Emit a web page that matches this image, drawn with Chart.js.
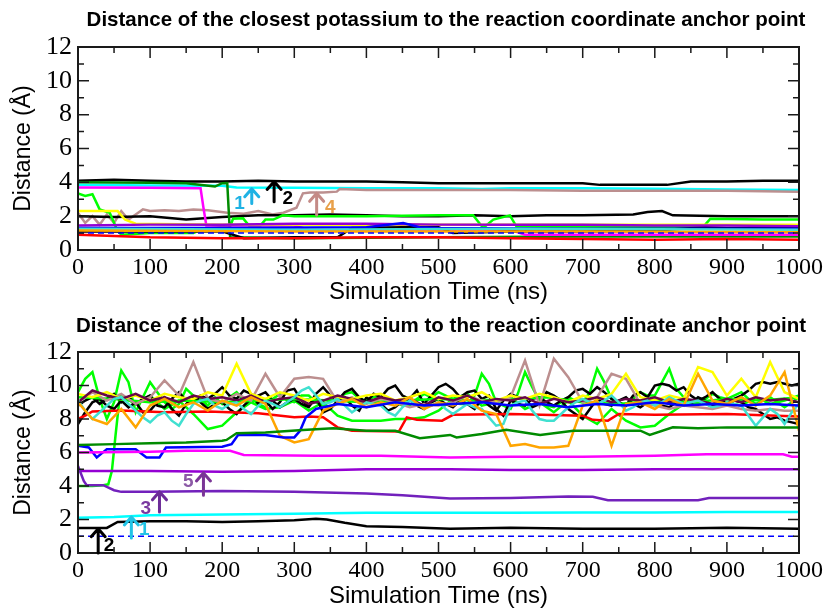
<!DOCTYPE html>
<html>
<head>
<meta charset="utf-8">
<script src="https://cdn.jsdelivr.net/npm/chart.js@4.4.1/dist/chart.umd.min.js"></script>
<style>
  body { margin: 0; background: #fff; }
  .panel { position: absolute; left: 0; width: 828px; }
  #topPanel { top: 0; height: 306px; }
  #bottomPanel { top: 306px; height: 302px; }
</style>
</head>
<body>
<div class="panel" id="topPanel"><canvas id="kChart" width="828" height="306"></canvas></div>
<div class="panel" id="bottomPanel"><canvas id="mgChart" width="828" height="302"></canvas></div>
<script>
// ---- time axes used by the noisy magnesium traces (ns) ----
const T20 = [0,20,40,60,80,100,120,140,160,180,200,220,240,260,280,300,320,340,360,380,
  400,420,440,460,480,500,520,540,560,580,600,620,640,660,680,700,720,740,760,780,
  800,820,840,860,880,900,920,940,960,980,1000];
const T10 = [0,10,20,30,40,50,60,70,80,90,100,110,120,130,140,150,160,170,180,190,
  200,210,220,230,240,250,260,270,280,290,300,310,320,330,340,350,360,370,380,390,
  400,410,420,430,440,450,460,470,480,490,500,510,520,530,540,550,560,570,580,590,
  600,610,620,630,640,650,660,670,680,690,700,710,720,730,740,750,760,770,780,790,
  800,810,820,830,840,850,860,870,880,890,900,910,920,930,940,950,960,970,980,990,1000];

const xTicks = [0,100,200,300,400,500,600,700,800,900,1000];
const yTicks = [0,2,4,6,8,10,12];

// ---- potassium traces (distance in Å) ----
const kBlackTopT = [0,50,100,150,200,250,300,350,400,450,500,550,600,650,700,724,760,817,850,900,950,1000];
const kBlackTopV = [4.1,4.15,4.1,4.05,4.05,4.1,4.05,4.05,4.05,4.0,3.95,3.95,3.95,3.95,3.95,3.85,3.85,3.85,4.05,4.05,4.1,4.1];
const kCyanT = [0,100,200,220,300,400,500,560,600,700,800,900,1000];
const kCyanV = [3.85,3.82,3.8,3.7,3.68,3.65,3.65,3.6,3.65,3.65,3.62,3.58,3.55];
const kBrownT = [0,10,20,30,40,50,60,70,80,90,100,120,140,160,180,207,230,250,270,285,303,312,322,340,359,363,400,500,600,700,800,900,1000];
const kBrownV = [2.2,1.6,2.0,1.5,2.1,1.6,2.3,1.8,2.1,2.4,2.3,2.35,2.3,2.4,2.35,2.2,2.15,2.3,2.1,2.2,2.5,3.35,3.4,3.4,3.45,3.6,3.55,3.55,3.55,3.5,3.5,3.5,3.45];
const kMagentaT = [0,100,170,174,178,300,320,600,620,1000];
const kMagentaV = [3.7,3.68,3.65,2.5,1.45,1.45,1.2,1.2,0.9,0.9];
const kDkGreenT = [0,100,150,190,200,207,211,300,500,700,1000];
const kDkGreenV = [4.0,3.98,3.95,3.75,3.95,3.96,0.75,0.7,0.75,0.8,0.8];
const kLimeT = [0,10,20,30,44,54,60,100,160,173,197,211,215,229,238,252,260,271,284,300,400,500,548,562,576,599,608,700,800,867,877,950,1000];
const kLimeV = [3.35,3.2,3.3,2.4,2.2,1.2,0.9,1.0,1.0,1.25,1.35,1.38,1.85,1.87,1.4,1.38,1.8,1.8,2.05,2.0,2.0,2.05,2.05,1.3,1.8,2.05,1.4,1.35,1.35,1.35,1.85,1.8,1.8];
const kBlackMidT = [0,50,100,150,200,250,300,350,400,450,500,550,600,650,700,770,790,810,825,900,950,1000];
const kBlackMidV = [2.0,1.95,2.0,1.8,1.95,2.05,2.05,2.1,2.05,2.0,2.0,2.05,2.0,2.05,2.05,2.1,2.25,2.3,2.05,2.0,2.0,2.0];
const kYellowT = [0,55,65,80,200,400,600,800,1000];
const kYellowV = [2.3,2.3,1.8,1.55,1.5,1.5,1.5,1.5,1.5];
const kVioletT = [0,100,200,300,400,500,600,700,800,900,1000];
const kVioletV = [1.45,1.5,1.5,1.55,1.55,1.5,1.5,1.5,1.45,1.45,1.4];
const kBlueT = [0,200,400,451,474,500,700,1000];
const kBlueV = [1.3,1.3,1.35,1.6,1.35,1.3,1.25,1.25];
const kTurqT = [0,300,600,1000];
const kTurqV = [1.25,1.2,1.25,1.2];
const kBlackLowT = [0,200,230,300,360,380,450,500,520,600,700,800,870,900,1000];
const kBlackLowV = [1.1,1.1,0.7,0.75,0.75,1.3,1.35,1.35,1.0,1.1,1.1,1.15,1.35,1.3,1.3];
const kRedT = [0,100,200,300,400,500,600,700,800,900,1000];
const kRedV = [0.9,0.75,0.7,0.7,0.75,0.75,0.7,0.65,0.6,0.65,0.6];
const kOrangeT = [0,300,700,1000];
const kOrangeV = [1.15,1.1,1.1,1.05];
const refT = [0,1000];
const refV = [1.0,1.0];

// ---- magnesium traces (distance in Å) ----
const mgBlackAV = [8.8,9.1,9.3,8.9,9.2,9.5,9.0,9.3,8.9,9.2,
  9.4,8.8,8.7,9.2,9.6,9.1,9.0,9.4,9.2,9.5,
  9.9,9.4,9.2,9.7,9.5,8.9,9.1,8.6,9.0,9.7,
  9.8,9.1,8.8,9.5,9.9,9.4,9.1,9.6,9.8,9.3,
  9.0,9.5,9.3,9.8,10.0,9.4,9.2,9.7,8.9,9.4,
  9.9,10.1,9.8,9.3,9.6,9.7,9.2,8.8,8.5,9.1,
  9.5,9.3,9.2,8.7,8.9,9.6,9.4,9.1,9.3,9.7,
  9.8,9.5,9.9,9.6,9.2,9.0,8.8,9.4,9.6,9.3,
  10.0,10.1,10.0,9.7,9.9,9.4,9.1,9.3,9.6,9.2,
  8.9,9.2,9.4,9.7,10.1,10.2,10.1,10.2,10.1,10.0,
  10.1];
const mgBlackBV = [7.7,8.4,9.0,9.2,8.8,8.6,9.1,8.7,9.0,8.4,
  8.5,9.0,9.3,8.6,8.2,8.9,9.3,9.0,8.6,8.9,
  9.0,8.6,8.3,8.8,9.2,9.4,9.6,9.1,8.7,9.0,
  9.2,8.9,8.7,9.3,8.4,8.6,9.1,9.3,8.8,8.5,
  9.3,9.0,8.9,8.5,8.7,9.1,9.2,8.8,8.6,9.0,
  9.2,8.9,8.7,9.1,8.9,8.6,9.2,9.4,8.6,8.2,
  9.1,8.9,8.8,9.2,9.3,9.0,8.8,9.1,8.6,8.3,
  8.0,8.6,9.2,8.9,8.8,9.1,9.3,8.9,8.7,9.0,
  9.1,8.8,8.7,9.0,9.2,8.9,9.3,9.1,8.8,9.0,
  8.8,9.1,9.0,8.7,8.6,8.3,8.0,8.1,7.9,7.8,
  7.7];
const mgLimeAV = [9.6,10.4,10.8,9.2,8.0,9.0,10.9,10.2,8.4,9.3,
  10.2,9.6,9.0,8.6,8.9,9.8,9.4,9.2,8.8,9.3,
  8.9,9.3,9.6,9.1,9.3,8.9,8.7,9.2,9.5,9.1,
  9.0,9.4,9.4,9.0,8.8,9.1,9.2,9.5,9.6,9.2,
  9.1,9.3,9.3,9.0,9.0,8.8,8.8,9.2,9.5,9.3,
  9.6,9.4,9.2,8.9,8.9,9.4,10.7,10.1,9.0,8.8,
  8.6,9.5,10.8,9.9,9.1,8.8,8.7,9.0,9.3,9.1,
  9.0,9.6,11.0,10.2,9.2,8.9,8.8,9.2,9.6,9.4,
  9.4,10.2,11.0,9.8,9.3,8.9,8.9,9.2,9.5,9.3,
  9.2,9.4,9.6,9.2,8.9,9.1,9.3,9.0,8.7,9.0,
  9.3];
const mgTurqV = [9.1,8.5,8.0,8.4,8.8,9.2,9.3,8.9,8.5,8.1,
  7.8,8.2,8.4,7.9,7.6,8.3,8.9,9.1,9.2,8.8,
  8.6,8.9,9.0,8.6,8.3,8.8,9.1,8.9,8.7,9.0,
  9.3,9.7,9.9,9.4,8.9,9.0,9.2,8.8,8.4,8.7,
  9.0,8.9,8.8,8.4,8.2,8.7,9.1,8.9,8.7,8.8,
  9.0,8.6,8.3,8.6,8.9,8.7,8.6,8.1,7.6,7.7,
  8.8,9.0,9.1,8.5,8.0,7.9,7.9,8.3,8.7,9.0,
  9.2,9.0,8.9,9.1,9.4,9.0,8.5,8.7,9.0,9.1,
  8.8,9.0,9.3,9.1,8.9,9.0,9.1,8.9,8.7,8.8,
  9.0,8.9,8.8,8.2,7.6,8.1,8.6,8.3,7.7,8.4,
  8.9];
const mgLimeBT = [0,20,35,42,47,52,58,80,100,120,140,160,180,200,220,240,260,280,300,320,340,360,380,
  400,420,440,460,480,500,520,540,560,580,600,620,640,660,680,700,720,740,760,780,
  800,820,840,860,880,900,920,940,960,980,1000];
const mgLimeBV = [4.0,4.0,4.05,4.1,4.9,7.0,9.4,8.9,9.4,8.6,9.1,8.3,7.4,7.6,8.4,9.0,8.6,8.7,9.1,8.5,9.0,8.2,7.9,
  7.9,7.9,8.0,8.0,8.1,8.5,9.2,9.5,8.8,9.0,9.3,8.6,9.0,8.4,9.1,8.2,7.7,8.6,7.9,7.5,
  7.6,8.3,8.9,9.2,8.7,9.0,8.8,9.3,8.9,9.1,9.4];
const mgLimeCT = [0,50,100,150,200,250,300,350,400,450,500,550,600,650,700,750,800,850,900,950,1000];
const mgLimeCV = [9.3,9.2,9.0,9.1,9.0,9.1,9.2,9.1,9.0,9.1,9.2,9.1,9.2,9.3,9.0,8.9,9.1,9.0,9.2,9.1,9.3];
const mgYellowV = [9.5,9.3,9.6,9.2,9.4,9.1,9.5,9.3,9.2,9.6,9.4,11.3,9.5,9.2,9.6,9.4,9.1,9.5,9.3,9.2,
  9.4,9.5,9.1,9.3,9.6,9.2,9.4,9.3,9.6,9.1,9.4,9.2,9.5,9.3,9.0,9.4,9.2,9.5,10.7,9.3,
  9.1,9.4,9.2,11.1,10.8,9.4,10.4,9.3,11.4,9.6,9.2];
const mgOrangeV = [9.0,8.0,7.7,8.6,7.5,8.8,9.2,8.7,9.0,8.5,9.1,8.8,9.3,8.9,7.0,6.6,6.8,8.5,8.9,9.2,
  8.7,9.0,8.8,9.3,8.6,9.0,8.8,9.2,8.5,8.3,6.4,6.5,6.3,6.3,6.4,8.8,9.1,6.4,8.9,9.0,
  8.6,9.2,8.8,10.7,9.1,8.9,9.3,8.8,9.4,10.8,7.3];
const mgBrownV = [9.0,9.6,9.1,9.5,8.9,9.3,10.3,9.4,11.4,9.2,9.0,9.5,9.1,10.7,9.3,10.4,10.5,10.4,9.0,9.3,
  8.9,9.2,9.0,8.7,8.9,8.8,9.0,9.4,9.1,9.0,9.3,11.5,8.8,11.6,10.5,9.0,9.3,10.7,10.4,8.9,
  8.8,8.6,8.8,8.7,8.6,8.8,8.6,8.5,8.6,8.5,8.5];
const mgMaroonV = [9.0,9.7,9.4,9.2,9.5,9.1,9.3,9.0,9.4,9.2,9.3,9.1,9.4,9.0,9.2,9.3,8.9,9.1,9.4,9.2,
  9.0,9.3,9.1,9.2,8.8,9.3,9.1,9.4,9.0,9.2,9.1,9.3,8.9,9.2,9.0,9.1,9.3,9.0,9.2,9.1,
  9.3,9.0,9.2,9.1,8.9,9.2,9.0,9.3,9.1,9.2,9.0];
const mgBlueT = [0,15,26,40,80,95,113,122,200,213,222,260,285,300,308,316,330,360,400,440,480,520,560,600,640,680,720,760,800,840,880,920,960,1000];
const mgBlueV = [6.4,6.3,5.7,6.2,6.2,5.7,5.7,6.3,6.35,6.5,7.05,7.05,6.9,6.9,7.3,8.1,8.6,8.9,8.7,9.0,8.8,8.9,9.0,8.8,8.9,8.7,8.9,8.8,9.0,8.8,8.9,8.8,8.9,8.8];
const mgRedT = [0,10,20,60,120,180,250,300,320,340,360,380,445,456,470,505,520,600,700,714,735,750,800,900,1000];
const mgRedV = [8.0,8.2,8.45,8.5,8.4,8.45,8.35,8.1,8.15,8.1,7.5,7.3,7.25,8.1,7.95,7.9,8.25,8.3,8.2,7.95,7.9,8.3,8.25,8.3,8.15];
const mgDkGreenT = [0,50,100,150,200,206,220,260,312,354,400,440,474,516,525,560,594,641,687,740,780,793,825,860,900,950,1000];
const mgDkGreenV = [6.45,6.5,6.55,6.6,6.7,6.75,7.15,7.2,7.35,7.45,7.3,7.3,6.85,7.05,6.9,7.1,7.35,7.05,7.3,7.3,7.3,7.05,7.5,7.45,7.5,7.5,7.5];
const mgMagentaT = [0,100,150,211,230,330,420,516,600,700,800,872,978,990,1000];
const mgMagentaV = [6.0,6.05,6.1,6.1,5.85,5.8,5.8,5.7,5.75,5.75,5.8,5.9,5.9,5.75,5.75];
const mgVioletT = [0,100,200,300,400,516,600,700,800,900,1000];
const mgVioletV = [4.9,4.9,4.85,4.9,5.0,5.0,4.95,4.95,5.0,5.0,5.0];
const mgIndigoT = [0,8,12,35,50,60,100,200,300,400,450,516,600,680,714,735,860,875,1000];
const mgIndigoV = [5.2,4.3,4.05,4.05,3.75,3.65,3.65,3.7,3.65,3.55,3.45,3.25,3.28,3.38,3.36,3.15,3.15,3.28,3.28];
const mgCyanT = [0,50,100,200,300,400,500,600,700,800,900,1000];
const mgCyanV = [2.1,2.15,2.25,2.3,2.35,2.4,2.4,2.4,2.42,2.42,2.45,2.45];
const mgBlackLowT = [0,40,55,100,150,200,250,300,330,345,370,400,450,516,600,700,800,900,1000];
const mgBlackLowV = [1.5,1.5,1.85,1.9,1.9,1.85,1.9,1.95,2.05,2.0,1.8,1.6,1.55,1.45,1.5,1.45,1.45,1.5,1.45];

// numbered arrows: time, tail, tip, label position
const kArrows = [
  { n: '1', t: 241, from: 2.75, to: 3.62, color: '#1fb2e4', lt: 224, lv: 2.72, lc: '#1fb2e4' },
  { n: '2', t: 272, from: 2.85, to: 4.05, color: '#000000', lt: 291, lv: 3.0, lc: '#000000' },
  { n: '4', t: 331, from: 2.07, to: 3.35, color: '#c48a86', lt: 350, lv: 2.5, lc: '#e8a04a' }
];
const mgArrows = [
  { n: '5', t: 174, from: 3.45, to: 4.78, color: '#7a3596', lt: 153, lv: 4.26, lc: '#8c5aa6' },
  { n: '3', t: 113, from: 2.45, to: 3.65, color: '#6c2c98', lt: 94, lv: 2.63, lc: '#7a3aa0' },
  { n: '1', t: 74, from: 0.9, to: 2.15, color: '#22c4e6', lt: 92, lv: 1.37, lc: '#22c4e6' },
  { n: '2', t: 28, from: 0.0, to: 1.45, color: '#000000', lt: 43, lv: 0.45, lc: '#000000' }
];

// xmgrace palette
const C = {
  black: '#000000', red: '#ff0000', lime: '#00ff00', blue: '#0000ff', yellow: '#ffff00',
  brown: '#bc8f8f', violet: '#9400d3', cyan: '#00ffff', magenta: '#ff00ff', orange: '#ffa500',
  indigo: '#7221bc', maroon: '#670748', turq: '#40e0d0', green4: '#008b00'
};

function line(color, t, v, opts) {
  return Object.assign({
    borderColor: color,
    borderWidth: 2.5,
    pointRadius: 0,
    tension: 0,
    fill: false,
    data: t.map((x, i) => ({ x: x, y: v[i] }))
  }, opts || {});
}
const dashed = { borderWidth: 1.5, borderDash: [6, 4] };

const kSets = [
  line(C.red, kRedT, kRedV),
  line(C.blue, refT, refV, dashed),
  line(C.orange, kOrangeT, kOrangeV),
  line(C.turq, kTurqT, kTurqV),
  line(C.blue, kBlueT, kBlueV),
  line(C.violet, kVioletT, kVioletV),
  line(C.yellow, kYellowT, kYellowV),
  line(C.black, kBlackLowT, kBlackLowV),
  line(C.magenta, kMagentaT, kMagentaV),
  line(C.green4, kDkGreenT, kDkGreenV),
  line(C.lime, kLimeT, kLimeV),
  line(C.black, kBlackMidT, kBlackMidV),
  line(C.brown, kBrownT, kBrownV),
  line(C.cyan, kCyanT, kCyanV),
  line(C.black, kBlackTopT, kBlackTopV)
];

const mgSets = [
  line(C.blue, refT, refV, dashed),
  line(C.black, mgBlackLowT, mgBlackLowV),
  line(C.cyan, mgCyanT, mgCyanV),
  line(C.indigo, mgIndigoT, mgIndigoV),
  line(C.violet, mgVioletT, mgVioletV),
  line(C.magenta, mgMagentaT, mgMagentaV),
  line(C.green4, mgDkGreenT, mgDkGreenV),
  line(C.blue, mgBlueT, mgBlueV),
  line(C.orange, T20, mgOrangeV),
  line(C.turq, T10, mgTurqV),
  line(C.maroon, T20, mgMaroonV),
  line(C.yellow, T20, mgYellowV),
  line(C.brown, T20, mgBrownV),
  line(C.red, mgRedT, mgRedV),
  line(C.lime, mgLimeCT, mgLimeCV),
  line(C.black, T10, mgBlackBV),
  line(C.black, T10, mgBlackAV),
  line(C.lime, T10, mgLimeAV),
  line(C.lime, mgLimeBT, mgLimeBV)
];

// panel heading, box frame with inward ticks, numbered arrows
const frameTicks = {
  id: 'frameTicks',
  afterDatasetsDraw(chart) {
    const { ctx, chartArea: a, scales: { x, y } } = chart;
    const opts = chart.options.plugins.frameTicks;
    ctx.save();
    ctx.strokeStyle = '#1a1a1a';
    ctx.lineWidth = 1.5;
    ctx.beginPath();
    for (let i = 0; i < xTicks.length; i++) {
      const v = xTicks[i];
      const px = x.getPixelForValue(v);
      ctx.moveTo(px, a.bottom); ctx.lineTo(px, a.bottom - 11);
      ctx.moveTo(px, a.top); ctx.lineTo(px, a.top + 11);
      if (i < xTicks.length - 1) {
        const mx = x.getPixelForValue((v + xTicks[i + 1]) / 2);
        ctx.moveTo(mx, a.bottom); ctx.lineTo(mx, a.bottom - 6);
        ctx.moveTo(mx, a.top); ctx.lineTo(mx, a.top + 6);
      }
    }
    for (let i = 0; i < yTicks.length; i++) {
      const v = yTicks[i];
      const py = y.getPixelForValue(v);
      ctx.moveTo(a.left, py); ctx.lineTo(a.left + 11, py);
      ctx.moveTo(a.right, py); ctx.lineTo(a.right - 11, py);
      if (i < yTicks.length - 1) {
        const my = y.getPixelForValue((v + yTicks[i + 1]) / 2);
        ctx.moveTo(a.left, my); ctx.lineTo(a.left + 6, my);
        ctx.moveTo(a.right, my); ctx.lineTo(a.right - 6, my);
      }
    }
    ctx.stroke();
    ctx.lineWidth = 2;
    ctx.strokeRect(a.left, a.top, a.right - a.left, a.bottom - a.top);

    ctx.fillStyle = '#000';
    ctx.font = 'bold 20.5px "Liberation Sans", Arial, sans-serif';
    ctx.textAlign = 'center';
    ctx.textBaseline = 'middle';
    ctx.fillText(opts.heading, opts.headX, opts.headY);

    (opts.arrows || []).forEach(ar => {
      const px = x.getPixelForValue(ar.t);
      const y0 = y.getPixelForValue(ar.from);
      const y1 = y.getPixelForValue(ar.to);
      ctx.strokeStyle = ar.color;
      ctx.lineWidth = 3;
      ctx.lineCap = 'round';
      ctx.lineJoin = 'round';
      ctx.beginPath();
      ctx.moveTo(px, y0); ctx.lineTo(px, y1);
      ctx.moveTo(px - 7, y1 + 8); ctx.lineTo(px, y1); ctx.lineTo(px + 7, y1 + 8);
      ctx.stroke();
      ctx.fillStyle = ar.lc;
      ctx.font = 'bold 19px "Liberation Sans", Arial, sans-serif';
      ctx.fillText(ar.n, x.getPixelForValue(ar.lt), y.getPixelForValue(ar.lv));
    });
    ctx.restore();
  }
};

function panelOptions(heading, headX, top, xTitlePad, arrows) {
  return {
    responsive: false,
    animation: false,
    layout: { padding: { left: 0, right: 29, top: top, bottom: 0 } },
    plugins: {
      legend: { display: false },
      tooltip: { enabled: false },
      title: { display: false },
      frameTicks: { heading: heading, headX: headX, headY: 20, arrows: arrows }
    },
    scales: {
      x: {
        type: 'linear',
        min: 0, max: 1000,
        grid: { display: false, drawTicks: false },
        border: { display: false },
        afterBuildTicks: s => { s.ticks = xTicks.map(v => ({ value: v })); },
        afterFit: s => { s.height = s.chart.height - s.chart._panelBottom; },
        ticks: {
          color: '#000', padding: 3, maxRotation: 0, autoSkip: false,
          callback: v => String(v),
          font: { family: '"Liberation Serif", "Times New Roman", serif', size: 24 }
        },
        title: {
          display: true, text: 'Simulation Time (ns)', color: '#000',
          font: { family: '"Liberation Sans", Arial, sans-serif', size: 24, lineHeight: 1 },
          padding: { top: 0, bottom: xTitlePad }
        }
      },
      y: {
        type: 'linear',
        min: 0, max: 12,
        grid: { display: false, drawTicks: false },
        border: { display: false },
        afterBuildTicks: s => { s.ticks = yTicks.map(v => ({ value: v })); },
        afterFit: s => { s.width = 78; },
        ticks: {
          color: '#000', padding: 6, autoSkip: false,
          callback: v => String(v),
          font: { family: '"Liberation Serif", "Times New Roman", serif', size: 26 }
        },
        title: {
          display: true, text: 'Distance (Å)', color: '#000',
          font: { family: '"Liberation Sans", Arial, sans-serif', size: 23, lineHeight: 1.2 },
          padding: { top: 10, bottom: 0 }
        }
      }
    }
  };
}

function build(id, sets, opts, panelBottom) {
  const ctx = document.getElementById(id).getContext('2d');
  return new Chart(ctx, {
    type: 'line',
    data: { datasets: sets },
    options: opts,
    plugins: [frameTicks, {
      id: 'panelBottom',
      beforeInit(c) { c._panelBottom = panelBottom; }
    }]
  });
}

build('kChart', kSets,
  panelOptions('Distance of the closest potassium to the reaction coordinate anchor point',
    446, 47, 2, kArrows), 250);
build('mgChart', mgSets,
  panelOptions('Distance of the closest magnesium to the reaction coordinate anchor point',
    441, 46, 0, mgArrows), 247);
</script>
</body>
</html>
